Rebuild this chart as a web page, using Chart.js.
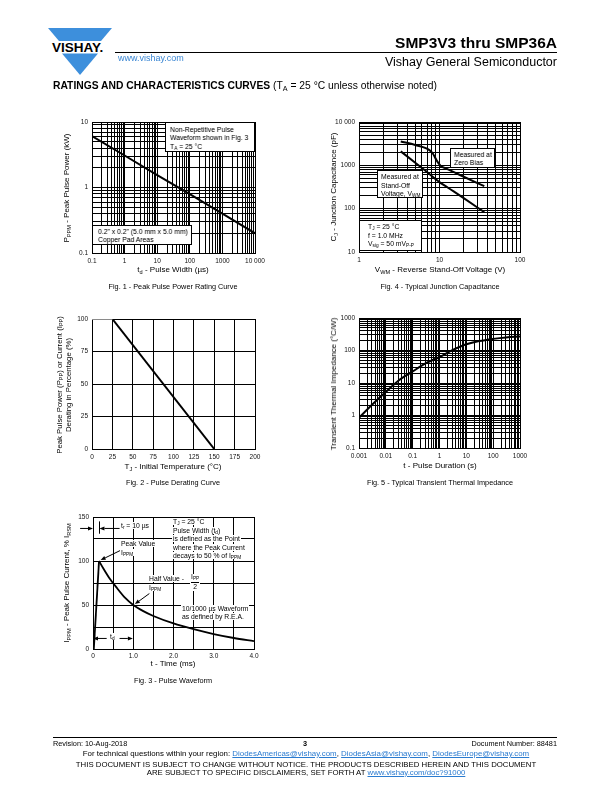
<!DOCTYPE html>
<html>
<head>
<meta charset="utf-8">
<title>SMP3V3 thru SMP36A</title>
<script src="https://cdn.jsdelivr.net/npm/chart.js@4.4.1/dist/chart.umd.min.js"></script>
<style>
  html, body { margin: 0; padding: 0; }
  body { width: 612px; height: 792px; position: relative; overflow: hidden; background: #fff;
         font-family: "Liberation Sans", Arial, Helvetica, sans-serif; color: #000; }
  #page { position: absolute; left: 0; top: 0; width: 612px; height: 792px; filter: grayscale(1); }
  .t { position: absolute; white-space: nowrap; line-height: 1; z-index: 2; }
  .c { transform: translateX(-50%); }
  .v { transform: translate(-50%, -50%) rotate(-90deg); text-align: center; }
  .box { position: absolute; background: #fff; border: 1px solid #000; box-sizing: border-box;
         white-space: nowrap; z-index: 2; font-size: 6.8px; }
  .bg { background: #fff; padding: 0 1px; }
  sub { font-size: 70%; vertical-align: -0.3em; line-height: 0; }
  canvas { position: absolute; z-index: 1; }
  a { color: #2a7bd0; text-decoration: underline; }
</style>
</head>
<body>

<!-- logo and links keep their colour -->
<svg style="position:absolute;left:0;top:0" width="130" height="80">
  <polygon points="48,28 112,28 101,41 59,41" fill="#3d8fdc"/>
  <polygon points="62,53.5 98,53.5 80,75" fill="#3d8fdc"/>
  <text x="52" y="52" font-family="Liberation Sans" font-weight="bold" font-size="13.5">VISHAY.</text>
</svg>
<div class="t" style="left:118px;top:54px;font-size:9px;color:#3a86d3">www.vishay.com</div>

<div id="page">
<div class="t" style="right:55px;top:35px;font-size:15.5px;font-weight:bold">SMP3V3 thru SMP36A</div>
<div style="position:absolute;left:115px;top:52px;width:442px;height:1px;background:#000"></div>
<div class="t" style="right:55px;top:56px;font-size:12.5px">Vishay General Semiconductor</div>
<div class="t" style="left:53px;top:81px;font-size:10.3px"><b>RATINGS AND CHARACTERISTICS CURVES</b> (T<sub>A</sub> = 25 °C unless otherwise noted)</div>

<!-- fig 1 -->
<canvas id="fig1"></canvas>
<div class="box" style="left:165px;top:122px;width:90px;height:30px;padding:3px 0 0 4px;line-height:8.3px">Non-Repetitive Pulse<br>Waveform shown in Fig. 3<br>T<sub>A</sub> = 25 °C</div>
<div class="box" style="left:92px;top:225px;width:100px;height:20px;padding:2px 0 0 5px;line-height:8.3px">0.2" x 0.2" (5.0 mm x 5.0 mm)<br>Copper Pad Areas</div>
<div class="t v" style="left:67px;top:188px;font-size:8px">P<sub>PPM</sub> - Peak Pulse Power (kW)</div>
<div class="t c" style="left:173px;top:266px;font-size:8px">t<sub>d</sub> - Pulse Width (µs)</div>
<div class="t c" style="left:173px;top:283px;font-size:7.3px">Fig. 1 - Peak Pulse Power Rating Curve</div>

<!-- fig 4 -->
<canvas id="fig4"></canvas>
<div class="box" style="left:450px;top:148px;width:45px;height:20px;padding:2px 0 0 3px;line-height:8.3px">Measured at<br>Zero Bias</div>
<div class="box" style="left:377px;top:170px;width:46px;height:28px;padding:2px 0 0 3px;line-height:8.5px">Measured at<br>Stand-Off<br>Voltage, V<sub>WM</sub></div>
<div class="box" style="left:359px;top:220px;width:63px;height:31px;padding:2px 0 0 8px;line-height:8.7px">T<sub>J</sub> = 25 °C<br>f = 1.0 MHz<br>V<sub>sig</sub> = 50 mV<sub>P-P</sub></div>
<div class="t v" style="left:334px;top:187px;font-size:8px">C<sub>J</sub> - Junction Capacitance (pF)</div>
<div class="t c" style="left:440px;top:266px;font-size:8px">V<sub>WM</sub> - Reverse Stand-Off Voltage (V)</div>
<div class="t c" style="left:440px;top:283px;font-size:7.3px">Fig. 4 - Typical Junction Capacitance</div>

<!-- fig 2 -->
<canvas id="fig2"></canvas>
<div class="t v" style="left:64px;top:385px;font-size:7.8px;line-height:8.5px">Peak Pulse Power (P<sub>PP</sub>) or Current (I<sub>PP</sub>)<br>Derating in Percentage (%)</div>
<div class="t c" style="left:173px;top:463px;font-size:8px">T<sub>J</sub> - Initial Temperature (°C)</div>
<div class="t c" style="left:173px;top:479px;font-size:7.3px">Fig. 2 - Pulse Derating Curve</div>

<!-- fig 5 -->
<canvas id="fig5"></canvas>
<div class="t v" style="left:334px;top:384px;font-size:8px">Transient Thermal Impedance (°C/W)</div>
<div class="t c" style="left:440px;top:462px;font-size:8px">t - Pulse Duration (s)</div>
<div class="t c" style="left:440px;top:479px;font-size:7.3px">Fig. 5 - Typical Transient Thermal Impedance</div>

<!-- fig 3 -->
<canvas id="fig3"></canvas>
<div class="t" style="left:120px;top:523px;font-size:6.8px"><span class="bg">t<sub>r</sub> = 10 µs</span></div>
<div class="t" style="left:120px;top:540px;font-size:6.8px;line-height:8.5px"><span class="bg">Peak Value</span><br><span class="bg">I<sub>PPM</sub></span></div>
<div class="t" style="left:172px;top:518px;font-size:6.8px;line-height:8.6px"><span class="bg">T<sub>J</sub> = 25 °C</span><br><span class="bg">Pulse Width (t<sub>d</sub>)</span><br><span class="bg">is defined as the Point</span><br><span class="bg">where the Peak Current</span><br><span class="bg">decays to 50 % of I<sub>PPM</sub></span></div>
<div class="t" style="left:148px;top:575px;font-size:6.8px;line-height:8.6px"><span class="bg">Half Value -</span><br><span class="bg">I<sub>PPM</sub></span></div>
<div class="t" style="left:190px;top:574px;font-size:6.8px;text-align:center;background:#fff;padding:0 1px"><span style="display:block;border-bottom:0.8px solid #000;padding-bottom:1px">I<sub>PP</sub></span><span style="display:block;padding-top:1px">2</span></div>
<div class="t" style="left:181px;top:605px;font-size:6.8px;line-height:8.4px"><span class="bg">10/1000 µs Waveform</span><br><span class="bg">as defined by R.E.A.</span></div>
<div class="t" style="left:109px;top:634px;font-size:6.8px"><span class="bg">t<sub>d</sub></span></div>
<div class="t v" style="left:67px;top:583px;font-size:8px">I<sub>PPM</sub> - Peak Pulse Current, % I<sub>RSM</sub></div>
<div class="t c" style="left:173px;top:660px;font-size:8px">t - Time (ms)</div>
<div class="t c" style="left:173px;top:677px;font-size:7.3px">Fig. 3 - Pulse Waveform</div>

<!-- footer, black parts -->
<div style="position:absolute;left:53px;top:737px;width:504px;height:1px;background:#000"></div>
<div class="t" style="left:53px;top:740px;font-size:7.3px">Revision: 10-Aug-2018</div>
<div class="t c" style="left:305px;top:740px;font-size:7.3px;font-weight:bold">3</div>
<div class="t" style="right:55px;top:740px;font-size:7.3px">Document Number: 88481</div>
<div class="t c" style="left:306px;top:761px;font-size:7.8px">THIS DOCUMENT IS SUBJECT TO CHANGE WITHOUT NOTICE. THE PRODUCTS DESCRIBED HEREIN AND THIS DOCUMENT</div>
</div>

<div class="t c" style="left:306px;top:750px;font-size:7.9px">For technical questions within your region: <a>DiodesAmericas@vishay.com</a>, <a>DiodesAsia@vishay.com</a>, <a>DiodesEurope@vishay.com</a></div>
<div class="t c" style="left:306px;top:769px;font-size:7.8px">ARE SUBJECT TO SPECIFIC DISCLAIMERS, SET FORTH AT <a>www.vishay.com/doc?91000</a></div>

<script>
// Fig. 1 - peak pulse power vs pulse width
const fig1Width = [0.1, 1, 10, 100, 1000, 10000];
const fig1Power = [6.1, 3.08, 1.55, 0.79, 0.40, 0.20];
const fig1XTicks = [0.1, 1, 10, 100, 1000, 10000];
const fig1XLabels = ['0.1', '1', '10', '100', '1000', '10 000'];
const fig1YTicks = [0.1, 1, 10];
const fig1YLabels = ['0.1', '1', '10'];

// Fig. 2 - derating
const fig2TempFlat = [0, 25];
const fig2DerFlat = [100, 100];
const fig2Temp = [25, 150];
const fig2Derating = [100, 0];
const fig2XTicks = [0, 25, 50, 75, 100, 125, 150, 175, 200];
const fig2XLabels = ['0', '25', '50', '75', '100', '125', '150', '175', '200'];
const fig2YTicks = [0, 25, 50, 75, 100];
const fig2YLabels = ['0', '25', '50', '75', '100'];

// Fig. 3 - pulse waveform
const fig3RiseTime = [0.02, 0.15];
const fig3RiseCurrent = [0, 100];
const fig3Time = [0.15, 0.25, 0.4, 0.6, 0.8, 1.0, 1.25, 1.5, 2.0, 2.5, 3.0, 3.5, 4.0];
const fig3Current = [100, 92, 81, 69, 58, 50, 43, 37.5, 29, 22.5, 17, 12.5, 9];
const fig3XTicks = [0, 1, 2, 3, 4];
const fig3XLabels = ['0', '1.0', '2.0', '3.0', '4.0'];
const fig3YTicks = [0, 50, 100, 150];
const fig3YLabels = ['0', '50', '100', '150'];

// Fig. 4 - junction capacitance
const fig4VoltZero = [3.3, 5, 7.5, 8.3, 9.2, 10.3, 12, 20, 36];
const fig4CapZero = [3550, 2950, 2250, 1850, 1300, 980, 850, 545, 330];
const fig4VoltWm = [3.3, 5, 7, 9.5, 10, 15, 20, 36];
const fig4CapWm = [2100, 1150, 700, 440, 410, 250, 175, 83];
const fig4XTicks = [1, 10, 100];
const fig4XLabels = ['1', '10', '100'];
const fig4YTicks = [10, 100, 1000, 10000];
const fig4YLabels = ['10', '100', '1000', '10 000'];

// Fig. 5 - transient thermal impedance
const fig5Time = [0.001, 0.003, 0.01, 0.03, 0.1, 0.3, 1, 3, 10, 30, 100, 300, 1000];
const fig5Imp = [0.85, 2.1, 5.3, 12, 22.7, 40, 63, 102, 155, 195, 228, 252, 268];
const fig5XTicks = [0.001, 0.01, 0.1, 1, 10, 100, 1000];
const fig5XLabels = ['0.001', '0.01', '0.1', '1', '10', '100', '1000'];
const fig5YTicks = [0.1, 1, 10, 100, 1000];
const fig5YLabels = ['0.1', '1', '10', '100', '1000'];

Chart.defaults.font.family = '"Liberation Sans", Arial, sans-serif';
Chart.defaults.font.size = 6.5;
Chart.defaults.color = '#111';

const PAD_L = 32, PAD_T = 8, PAD_R = 14, PAD_B = 14;

const pts = (xs, ys) => xs.map((x, i) => ({ x: x, y: ys[i] }));

// 1..9 x 10^n grid values for a log axis
function logGrid(min, max) {
  const out = [];
  for (let e = Math.floor(Math.log10(min)); e <= Math.ceil(Math.log10(max)); e++) {
    for (let m = 1; m < 10; m++) {
      const v = +(m * Math.pow(10, e)).toPrecision(6);
      if (v >= min * 0.999 && v <= max * 1.001) out.push(v);
    }
  }
  return out;
}

function labeler(values, labels, log) {
  return function (v) {
    const i = values.findIndex(t => log ? Math.abs(Math.log10(t) - Math.log10(v)) < 1e-6 : Math.abs(t - v) < 1e-9);
    return i < 0 ? '' : labels[i];
  };
}

function axis(dir, o) {
  const s = {
    type: o.log ? 'logarithmic' : 'linear',
    min: o.min, max: o.max,
    grid: { color: '#000', lineWidth: 1, drawTicks: false },
    border: { color: '#000', width: 1 },
    ticks: { autoSkip: false, maxRotation: 0, padding: o.pad || 4, callback: labeler(o.ticks, o.labels, o.log) },
    afterFit: sc => { if (dir === 'x') sc.height = PAD_B; else sc.width = PAD_L; }
  };
  if (o.log) s.afterBuildTicks = sc => { sc.ticks = logGrid(o.min, o.max).map(v => ({ value: v })); };
  else s.ticks.stepSize = o.step;
  return s;
}

function line(data, color, smooth) {
  return { data: data, borderColor: color || '#000', borderWidth: 2, pointRadius: 0, fill: false,
           tension: 0, cubicInterpolationMode: smooth ? 'monotone' : 'default' };
}

const arrowPlugin = {
  id: 'arrows',
  afterDraw(chart, args, opts) {
    const ctx = chart.ctx, X = chart.scales.x, Y = chart.scales.y;
    ctx.save();
    ctx.strokeStyle = '#000'; ctx.fillStyle = '#000'; ctx.lineWidth = 1;
    (opts.bars || []).forEach(b => {
      const x = Math.round(X.getPixelForValue(b.x)) + 0.5;
      ctx.beginPath(); ctx.moveTo(x, Y.getPixelForValue(b.y1)); ctx.lineTo(x, Y.getPixelForValue(b.y2)); ctx.stroke();
    });
    (opts.arrows || []).forEach(a => {
      const x1 = X.getPixelForValue(a.from[0]), y1 = Y.getPixelForValue(a.from[1]);
      const x2 = X.getPixelForValue(a.to[0]), y2 = Y.getPixelForValue(a.to[1]);
      const ang = Math.atan2(y2 - y1, x2 - x1), L = 5, W = 2;
      ctx.beginPath(); ctx.moveTo(x1, y1); ctx.lineTo(x2 - L * Math.cos(ang), y2 - L * Math.sin(ang)); ctx.stroke();
      ctx.beginPath();
      ctx.moveTo(x2, y2);
      ctx.lineTo(x2 - L * Math.cos(ang) + W * Math.sin(ang), y2 - L * Math.sin(ang) - W * Math.cos(ang));
      ctx.lineTo(x2 - L * Math.cos(ang) - W * Math.sin(ang), y2 - L * Math.sin(ang) + W * Math.cos(ang));
      ctx.closePath(); ctx.fill();
    });
    ctx.restore();
  }
};

function makeChart(id, area, datasets, xAxis, yAxis, extra) {
  const cv = document.getElementById(id);
  cv.width = area.r - area.l + PAD_L + PAD_R;
  cv.height = area.b - area.t + PAD_T + PAD_B;
  cv.style.left = (area.l - PAD_L) + 'px';
  cv.style.top = (area.t - PAD_T) + 'px';
  return new Chart(cv, {
    type: 'line',
    data: { datasets: datasets },
    options: {
      responsive: false, animation: false, devicePixelRatio: 1,
      layout: { padding: { left: 0, top: PAD_T, right: PAD_R, bottom: 0 } },
      plugins: Object.assign({ legend: { display: false }, tooltip: { enabled: false } }, extra ? extra.opts : {}),
      scales: { x: xAxis, y: yAxis }
    },
    plugins: extra ? extra.plugins : []
  });
}

makeChart('fig1', { l: 92, t: 122, r: 255, b: 253 },
  [line(pts(fig1Width, fig1Power))],
  axis('x', { log: true, min: 0.1, max: 10000, ticks: fig1XTicks, labels: fig1XLabels }),
  axis('y', { log: true, min: 0.1, max: 10, ticks: fig1YTicks, labels: fig1YLabels }));

makeChart('fig4', { l: 359, t: 122, r: 520, b: 252 },
  [line(pts(fig4VoltZero, fig4CapZero), '#000', true), line(pts(fig4VoltWm, fig4CapWm), '#000', true)],
  axis('x', { log: true, min: 1, max: 100, ticks: fig4XTicks, labels: fig4XLabels }),
  axis('y', { log: true, min: 10, max: 10000, ticks: fig4YTicks, labels: fig4YLabels }));

makeChart('fig2', { l: 92, t: 319, r: 255, b: 449 },
  [line(pts(fig2TempFlat, fig2DerFlat), '#8a8a8a'), line(pts(fig2Temp, fig2Derating))],
  axis('x', { min: 0, max: 200, step: 25, ticks: fig2XTicks, labels: fig2XLabels }),
  axis('y', { min: 0, max: 100, step: 25, ticks: fig2YTicks, labels: fig2YLabels }));

makeChart('fig5', { l: 359, t: 318, r: 520, b: 448 },
  [line(pts(fig5Time, fig5Imp), '#000', true)],
  axis('x', { log: true, min: 0.001, max: 1000, ticks: fig5XTicks, labels: fig5XLabels }),
  axis('y', { log: true, min: 0.1, max: 1000, ticks: fig5YTicks, labels: fig5YLabels }));

const fig3Rise = line(pts(fig3RiseTime, fig3RiseCurrent));
const fig3Decay = line(pts(fig3Time, fig3Current), '#000', true);
fig3Rise.borderWidth = fig3Decay.borderWidth = 1.8;
makeChart('fig3', { l: 93, t: 517, r: 254, b: 649 },
  [fig3Rise, fig3Decay],
  axis('x', { min: 0, max: 4, step: 0.5, pad: 3, ticks: fig3XTicks, labels: fig3XLabels }),
  axis('y', { min: 0, max: 150, step: 25, ticks: fig3YTicks, labels: fig3YLabels }),
  {
    plugins: [arrowPlugin],
    opts: {
      arrows: {
        bars: [{ x: 0.15, y1: 131, y2: 145 }],
        arrows: [
          { from: [-0.32, 137], to: [0, 137] },
          { from: [0.66, 137], to: [0.16, 137] },
          { from: [0.68, 112], to: [0.19, 101] },
          { from: [1.4, 63], to: [1.04, 51] },
          { from: [0.34, 12], to: [0.0, 12] },
          { from: [0.66, 12], to: [0.99, 12] }
        ]
      }
    }
  });
</script>
</body>
</html>
